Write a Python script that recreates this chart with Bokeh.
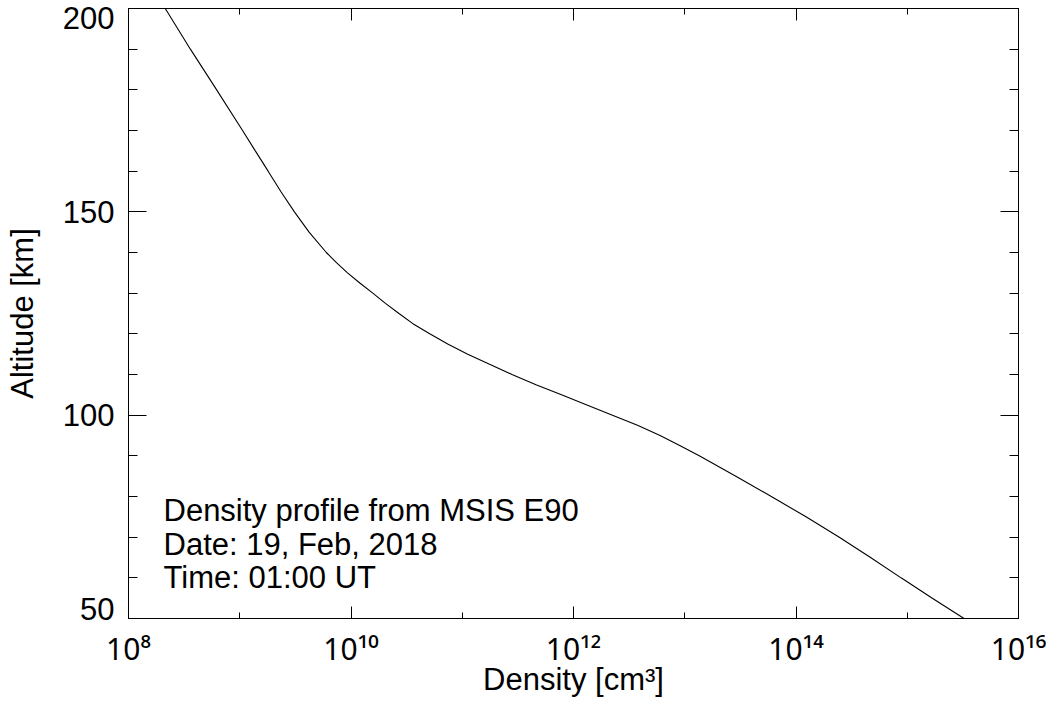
from bokeh.plotting import figure
from bokeh.models import (LogAxis, LinearAxis, FixedTicker, Range1d, Label,
                          CustomJSTickFormatter)
from bokeh.embed import file_html
from bokeh.resources import INLINE

# ---- data ----
altitude_km = [50, 55, 60, 65, 70, 75, 80, 85, 90, 92.5, 95, 97.5, 100, 102.5,
               105, 107.5, 110, 112.5, 115, 117.5, 120, 122.5, 125, 127.5,
               130, 132.5, 135, 137.5, 140, 145, 150, 155, 160, 165, 170,
               180, 190, 200]
density_cm3 = [3.24e15, 1.68e15, 8.8e14, 4.68e14, 2.45e14, 1.23e14, 6.0e13,
               2.88e13, 1.35e13, 9.1e12, 6.0e12, 3.76e12, 2.24e12, 1.32e12,
               7.8e11, 4.6e11, 2.8e11, 1.76e11, 1.12e11, 7.4e10, 5.1e10,
               3.6e10, 2.7e10, 2.04e10, 1.57e10, 1.2e10, 9.3e9, 7.4e9, 6.0e9,
               4.2e9, 3.1e9, 2.34e9, 1.8e9, 1.38e9, 1.06e9, 6.2e8, 3.6e8,
               2.14e8]

x_major_ticks = [1e8, 1e10, 1e12, 1e14, 1e16]
x_minor_ticks = [1e9, 1e11, 1e13, 1e15]
y_major_ticks = [50, 100, 150, 200]
y_minor_ticks = [60, 70, 80, 90, 110, 120, 130, 140, 160, 170, 180, 190]
y_tick_labels = ["50", "100", "150", "200"]
annotation_lines = ["Density profile from MSIS E90",
                    "Date: 19, Feb, 2018",
                    "Time: 01:00 UT"]
x_title = "Density [cm\u00b3]"
y_title = "Altitude [km]"

FONT = "Liberation Sans"
SUP_FONT = "Noto Sans"   # has every superscript digit in one consistent style
FS = "31px"
END_LABEL_PAD_KM = 2.4   # end labels of the y axis are pulled inside the span

p = figure(width=1049, height=700, x_axis_type="log",
           x_range=Range1d(x_major_ticks[0], x_major_ticks[-1]),
           y_range=Range1d(y_major_ticks[0], y_major_ticks[-1]),
           output_backend="svg", toolbar_location=None,
           min_border_left=128, min_border_right=31,
           min_border_top=8, min_border_bottom=82,
           x_axis_label=x_title)
p.grid.visible = False
p.outline_line_color = "black"
p.outline_line_width = 1
p.background_fill_color = "white"
p.border_fill_color = "white"

xticker = FixedTicker(ticks=x_major_ticks, minor_ticks=x_minor_ticks)
yticker = FixedTicker(ticks=y_major_ticks, minor_ticks=y_minor_ticks)

sup_fmt = CustomJSTickFormatter(code="""
const sup = {"0":"\u2070","1":"\u00b9","2":"\u00b2","3":"\u00b3","4":"\u2074",
             "5":"\u2075","6":"\u2076","7":"\u2077","8":"\u2078","9":"\u2079","-":"\u207b"};
const e = Math.round(Math.log10(tick));
return "10" + String(e).split("").map(c => sup[c]).join("");
""")
blank_fmt = CustomJSTickFormatter(code="return '';")


def style(ax, ticker, major_len, minor_len):
    ax.ticker = ticker
    ax.major_tick_in = major_len
    ax.major_tick_out = 0
    ax.minor_tick_in = minor_len
    ax.minor_tick_out = 0
    ax.axis_line_color = "black"
    ax.major_tick_line_color = "black"
    ax.minor_tick_line_color = "black"
    ax.major_label_text_font = FONT
    ax.major_label_text_font_size = FS
    ax.major_label_text_color = "black"
    ax.axis_label_text_font = FONT
    ax.axis_label_text_font_size = FS
    ax.axis_label_text_font_style = "normal"
    ax.axis_label_text_color = "black"


# bottom axis: ticks + labels + title
xb = p.xaxis[0]
style(xb, xticker, 12, 6)
xb.formatter = sup_fmt
xb.major_label_text_font = SUP_FONT
xb.major_label_text_font_size = "30px"
xb.major_label_standoff = 9
xb.axis_label_standoff = -10

# left axis next to the frame: ticks only
yl = p.yaxis[0]
style(yl, yticker, 18, 9)
yl.formatter = blank_fmt
yl.major_label_standoff = 0

# second left axis: the tick labels and the title
lo, hi = y_major_ticks[0], y_major_ticks[-1]
label_pos = [t + END_LABEL_PAD_KM if t == lo else
             (t - END_LABEL_PAD_KM if t == hi else t) for t in y_major_ticks]
ylab = LinearAxis(axis_label=y_title)
style(ylab, FixedTicker(ticks=label_pos, minor_ticks=[]), 0, 0)
ylab.formatter = CustomJSTickFormatter(args=dict(labels=y_tick_labels),
                                       code="return labels[index];")
ylab.axis_line_color = None
ylab.major_tick_line_color = None
ylab.minor_tick_line_color = None
ylab.major_label_standoff = 14
ylab.axis_label_standoff = 20
p.add_layout(ylab, "left")

top = LogAxis()
style(top, xticker, 12, 6)
top.formatter = blank_fmt
top.major_label_standoff = 0
p.add_layout(top, "above")

right = LinearAxis()
style(right, yticker, 18, 9)
right.formatter = blank_fmt
right.major_label_standoff = 0
p.add_layout(right, "right")

# annotation block in the lower left
for i, line in enumerate(annotation_lines):
    p.add_layout(Label(x=x_major_ticks[0], y=y_major_ticks[0], text=line,
                       x_offset=35, y_offset=108 - 33.5 * i,
                       text_align="left", text_baseline="alphabetic",
                       text_font=FONT, text_font_size=FS, text_color="black"))

p.line(density_cm3, altitude_km, line_color="black", line_width=1.1)

open("out.html", "w").write(file_html(p, INLINE))
